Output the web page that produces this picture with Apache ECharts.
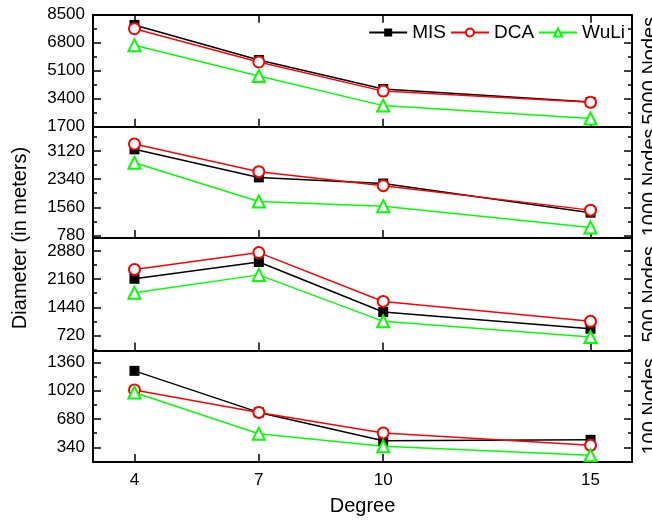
<!DOCTYPE html>
<html>
<head>
    <meta charset="utf-8">
    <title>Diameter vs Degree</title>
    <script src="https://cdn.jsdelivr.net/npm/echarts@6/dist/echarts.min.js"></script>
    <style>
        body { margin: 0; background: #fff; }
        #main { width: 652px; height: 520px; }
    </style>
</head>
<body>
    <div id="main"></div>

    <script type="text/javascript">
        // x positions (node degree)
        var degrees = [4, 7, 10, 15];
        var panelNames = ['5000 Nodes', '1000 Nodes', '500 Nodes', '100 Nodes'];

        // values
        var mis5000 = [7880, 5750, 3990, 3200];
        var dca5000 = [7650, 5630, 3860, 3180];
        var wuli5000 = [6650, 4780, 2980, 2200];

        var mis1000 = [3170, 2390, 2220, 1410];
        var dca1000 = [3320, 2550, 2160, 1480];
        var wuli1000 = [2800, 1720, 1590, 1000];

        var mis500 = [2170, 2600, 1320, 890];
        var dca500 = [2410, 2840, 1590, 1080];
        var wuli500 = [1810, 2270, 1080, 680];

        var mis100 = [1260, 760, 420, 430];
        var dca100 = [1030, 760, 513, 364];
        var wuli100 = [1000, 504, 352, 244];

        // y tick labels of each panel
        var ticks5000 = [1700, 3400, 5100, 6800, 8500];
        var ticks1000 = [780, 1560, 2340, 3120];
        var ticks500 = [720, 1440, 2160, 2880];
        var ticks100 = [340, 680, 1020, 1360];

        // minor ticks
        var minor5000 = [1700, 2550, 3400, 4250, 5100, 5950, 6800, 7650, 8500];
        var minor1000 = [780, 1170, 1560, 1950, 2340, 2730, 3120, 3510];
        var minor500 = [360, 720, 1080, 1440, 1800, 2160, 2520, 2880];
        var minor100 = [170, 340, 510, 680, 850, 1020, 1190, 1360];

        var chart = echarts.init(document.getElementById('main'));
        var font = 'Liberation Sans, Arial, sans-serif';

        var panels = [
            { min: 1700, max: 8500, major: ticks5000, minor: minor5000, mis: mis5000, dca: dca5000, wuli: wuli5000 },
            { min: 705, max: 3800, major: ticks1000, minor: minor1000, mis: mis1000, dca: dca1000, wuli: wuli1000 },
            { min: 334, max: 3214, major: ticks500, minor: minor500, mis: mis500, dca: dca500, wuli: wuli500 },
            { min: 163, max: 1505, major: ticks100, minor: minor100, mis: mis100, dca: dca100, wuli: wuli100 }
        ];
        var tops = [14.7, 126.7, 238, 350.5];
        var heights = [112, 111.3, 112.5, 111.5];

        function pts(arr) {
            return degrees.map(function (d, i) { return [d, arr[i]]; });
        }
        function plain(v) { return String(v); }

        var grid = [], xAxis = [], yAxis = [], series = [];
        var lineStyle = { color: '#000', width: 2 };

        panels.forEach(function (p, k) {
            grid.push({ left: 93, right: 20, top: tops[k], height: heights[k], outerBoundsMode: 'none', containLabel: false });

            xAxis.push({
                type: 'value', gridIndex: k, min: 3, max: 16, position: 'bottom',
                axisLine: { onZero: false, lineStyle: lineStyle },
                axisTick: { inside: true, length: 8, customValues: degrees, lineStyle: { width: 1.5, color: '#000' } },
                axisLabel: {
                    show: k === 3, customValues: degrees, margin: 10, formatter: plain,
                    color: '#000', fontSize: 17, fontFamily: font
                },
                splitLine: { show: false },
                name: k === 3 ? 'Degree' : '', nameLocation: 'middle', nameGap: 34,
                nameTextStyle: { color: '#000', fontSize: 20, fontFamily: font }
            });
            if (k === 0) {
                xAxis.push({
                    type: 'value', gridIndex: k, min: 3, max: 16, position: 'top',
                    axisLine: { onZero: false, lineStyle: lineStyle },
                    axisTick: { inside: true, length: 8, customValues: degrees, lineStyle: { width: 1.5, color: '#000' } },
                    axisLabel: { show: false },
                    splitLine: { show: false }
                });
            }

            var base = yAxis.length;
            // left major
            yAxis.push({
                type: 'value', gridIndex: k, min: p.min, max: p.max, position: 'left',
                axisLine: { show: true, onZero: false, lineStyle: lineStyle },
                axisTick: { inside: true, length: 8, customValues: p.major, lineStyle: { width: 1.5, color: '#000' } },
                axisLabel: { customValues: p.major, formatter: plain, margin: 8, color: '#000', fontSize: 17, fontFamily: font },
                splitLine: { show: false }
            });
            // left minor
            yAxis.push({
                type: 'value', gridIndex: k, min: p.min, max: p.max, position: 'left',
                axisLine: { show: false },
                axisTick: { inside: true, length: 4, customValues: p.minor, lineStyle: { width: 1.5, color: '#000' } },
                axisLabel: { show: false },
                splitLine: { show: false }
            });
            // right major, panel caption
            yAxis.push({
                type: 'value', gridIndex: k, min: p.min, max: p.max, position: 'right',
                axisLine: { show: true, onZero: false, lineStyle: lineStyle },
                axisTick: { inside: true, length: 8, customValues: p.major, lineStyle: { width: 1.5, color: '#000' } },
                axisLabel: { show: false },
                splitLine: { show: false },
                name: panelNames[k], nameLocation: 'middle', nameRotate: 90, nameGap: 8,
                nameTextStyle: { color: '#000', fontSize: 20, fontFamily: font }
            });
            // right minor
            yAxis.push({
                type: 'value', gridIndex: k, min: p.min, max: p.max, position: 'right',
                axisLine: { show: false },
                axisTick: { inside: true, length: 4, customValues: p.minor, lineStyle: { width: 1.5, color: '#000' } },
                axisLabel: { show: false },
                splitLine: { show: false }
            });

            var xi = k === 0 ? 0 : k + 1;
            series.push({
                name: 'MIS', type: 'line', xAxisIndex: xi, yAxisIndex: base,
                data: pts(p.mis), symbol: 'rect', symbolSize: 10,
                lineStyle: { color: '#000', width: 1.5 },
                itemStyle: { color: '#000' }
            });
            series.push({
                name: 'DCA', type: 'line', xAxisIndex: xi, yAxisIndex: base,
                data: pts(p.dca), symbol: 'emptyCircle', symbolSize: 11,
                lineStyle: { color: '#ff0000', width: 1.5 },
                itemStyle: { color: '#ff0000', borderWidth: 1.5 }
            });
            series.push({
                name: 'WuLi', type: 'line', xAxisIndex: xi, yAxisIndex: base,
                data: pts(p.wuli), symbol: 'emptyTriangle', symbolSize: 12,
                lineStyle: { color: '#00ff00', width: 1.5 },
                itemStyle: { color: '#00ff00', borderWidth: 1.5 }
            });
        });

        chart.setOption({
            backgroundColor: '#fff',
            animation: false,
            grid: grid,
            xAxis: xAxis,
            yAxis: yAxis,
            legend: {
                data: ['MIS', 'DCA', 'WuLi'],
                right: 27, top: 23, padding: 0,
                itemWidth: 38, itemHeight: 10, itemGap: 4,
                textStyle: { color: '#000', fontSize: 19, fontFamily: font }
            },
            graphic: [{
                type: 'text', x: 20, y: 238, rotation: Math.PI / 2,
                style: {
                    text: 'Diameter (in meters)', fill: '#000',
                    font: '20px ' + font,
                    align: 'center', verticalAlign: 'middle',
                    textAlign: 'center', textVerticalAlign: 'middle'
                }
            }],
            series: series
        });
    </script>
</body>
</html>
